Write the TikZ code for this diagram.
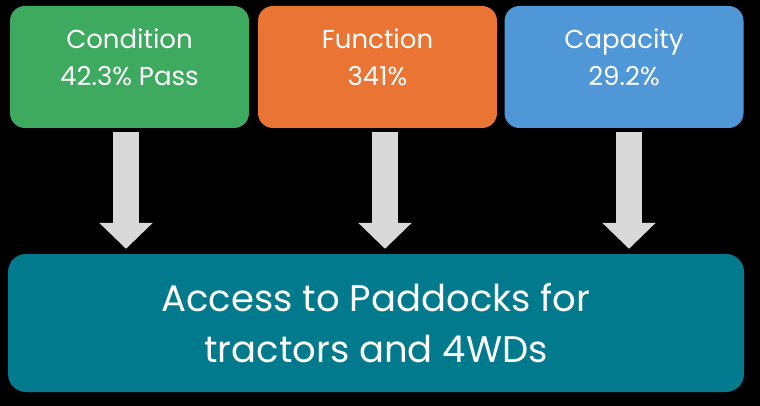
\documentclass[tikz,border=0pt]{standalone}
\usepackage{fontspec}
\setmainfont{Poppins}
\usetikzlibrary{arrows.meta}

\definecolor{condgreen}{HTML}{3DAA5F}
\definecolor{funcorange}{HTML}{E97434}
\definecolor{capblue}{HTML}{5097D8}
\definecolor{accessteal}{HTML}{007A8C}
\definecolor{arrowgray}{HTML}{D9D9D9}

\tikzset{
  topbox/.style={rounded corners=15pt, minimum width=239pt, minimum height=122pt,
    text=white, align=center, text depth=20pt, font=\fontsize{26}{37}\selectfont},
  bigbox/.style={rounded corners=18pt, minimum width=736pt, minimum height=138pt,
    fill=accessteal, text=white, align=center, font=\fontsize{37}{51}\selectfont},
  blockarrow/.style={arrowgray, line width=26pt,
    -{Triangle[width=52pt,length=26pt]}}
}

\begin{document}
\begin{tikzpicture}[x=1pt, y=-1pt]
  \fill[black] (0,0) rectangle (760,406);
  \useasboundingbox (0,0) rectangle (760,406);

  \node[topbox, fill=condgreen] (cond) at (129.5,67) {Condition\\42.3\% Pass};
  \node[topbox, fill=funcorange] (func) at (377.5,67) {Function\\341\%};
  \node[topbox, fill=capblue] (cap) at (624,67) {Capacity\\29.2\%};
  \node[bigbox] (access) at (376,323) {Access to Paddocks for\\tractors and 4WDs};

  \foreach \n/\dx in {cond/-3.5, func/7.5, cap/5}
    \draw[blockarrow] ([xshift=\dx pt, yshift=-4pt]\n.south)
      -- ([xshift=\dx pt, yshift=5pt]\n.south |- access.north);
\end{tikzpicture}
\end{document}
